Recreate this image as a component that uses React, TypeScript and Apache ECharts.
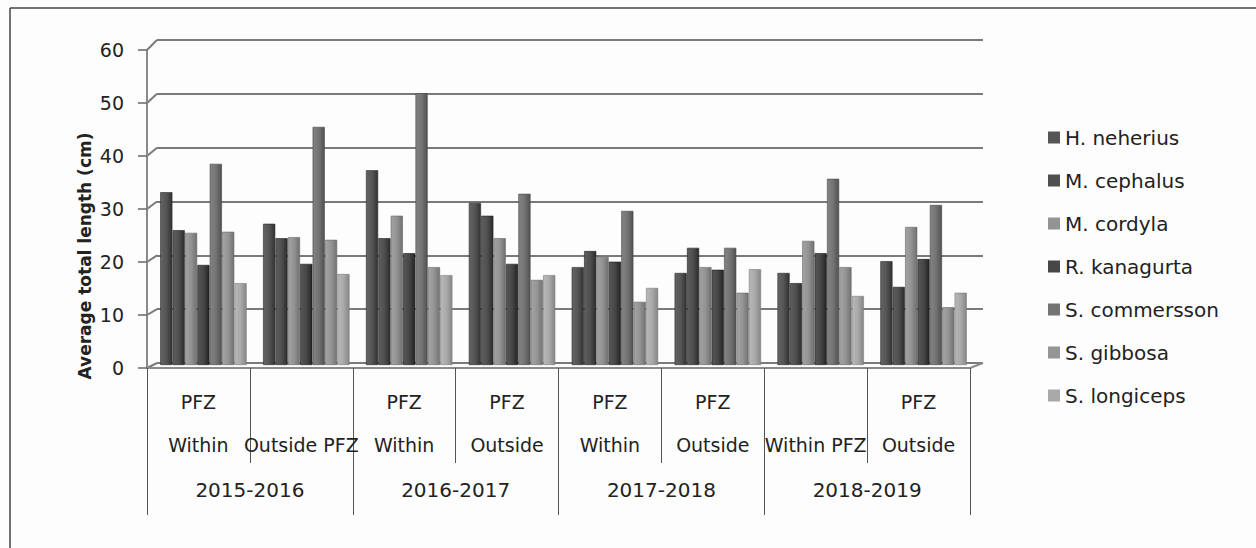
import React, { useEffect, useRef } from "react";
import * as echarts from "echarts";

const categories = [
  "PFZ\nWithin",
  " \nOutside PFZ",
  "PFZ\nWithin",
  "PFZ\nOutside",
  "PFZ\nWithin",
  "PFZ\nOutside",
  " \nWithin PFZ",
  "PFZ\nOutside",
];
const years = ["2015-2016", "2016-2017", "2017-2018", "2018-2019"];
const yTicks = [0, 10, 20, 30, 40, 50, 60];
const yTitle = "Average total length (cm)";

const speciesNames = [
  "H. neherius",
  "M. cephalus",
  "M. cordyla",
  "R. kanagurta",
  "S. commersson",
  "S. gibbosa",
  "S. longiceps",
];
const hNeherius = [32.3, 26.4, 36.4, 30.3, 18.3, 17.2, 17.2, 19.4];
const mCephalus = [25.2, 23.7, 23.7, 27.9, 21.3, 21.9, 15.3, 14.6];
const mCordyla = [24.7, 23.9, 27.9, 23.7, 20.2, 18.3, 23.2, 25.8];
const rKanagurta = [18.7, 18.9, 20.9, 18.9, 19.3, 17.8, 20.9, 19.8];
const sCommersson = [37.6, 44.5, 50.8, 32.0, 28.8, 21.9, 34.8, 29.9];
const sGibbosa = [24.9, 23.4, 18.3, 15.9, 11.8, 13.5, 18.3, 10.8];
const sLongiceps = [15.3, 17.0, 16.8, 16.8, 14.4, 17.9, 12.9, 13.5];

const seriesValues = [hNeherius, mCephalus, mCordyla, rKanagurta, sCommersson, sGibbosa, sLongiceps];
const baseColors = ["#555555", "#4f4f4f", "#939393", "#474747", "#747474", "#959595", "#a9a9a9"];

const FONT = "DejaVu Sans";

function shade(hex: string, amt: number) {
  const n = parseInt(hex.slice(1), 16);
  const c = (v: number) => Math.max(0, Math.min(255, Math.round(v + amt)));
  const r = c((n >> 16) & 255), g = c((n >> 8) & 255), b = c(n & 255);
  return `rgb(${r},${g},${b})`;
}

export default function App() {
  const ref = useRef<HTMLDivElement>(null);
  useEffect(() => {
    if (!ref.current) return;
    const chart = echarts.init(ref.current, null, { renderer: "svg" });
    const option: any = {
      animation: false,
      backgroundColor: "#fdfdfd",
      color: baseColors,
      grid: [
        { left: 147, right: 286, top: 50, bottom: 180, containLabel: false },
        { left: 157, right: 273, top: 40, bottom: 185, containLabel: false },
        { left: 152, right: 281, top: 44, bottom: 183, containLabel: false },
      ],
      xAxis: [
        {
          type: "category",
          gridIndex: 0,
          data: categories,
          axisLine: { show: true, lineStyle: { color: "#8a8a8a", width: 2 } },
          axisTick: { show: true, interval: 0, length: 95, lineStyle: { color: "#555", width: 1 } },
          axisLabel: {
            interval: 0,
            margin: 12,
            fontFamily: FONT,
            fontSize: 19,
            lineHeight: 43,
            color: "#222",
          },
        },
        {
          type: "category",
          gridIndex: 0,
          position: "bottom",
          data: years,
          axisLine: { show: false },
          axisTick: { show: true, interval: 0, length: 147, lineStyle: { color: "#555", width: 1 } },
          axisLabel: {
            interval: 0,
            margin: 111,
            fontFamily: FONT,
            fontSize: 20,
            lineHeight: 22,
            color: "#222",
          },
        },
        { type: "value", gridIndex: 1, min: 0, max: 1, show: false },
        { type: "category", gridIndex: 2, data: categories, show: false },
      ],
      yAxis: [
        {
          type: "value",
          gridIndex: 0,
          min: 0,
          max: 60,
          interval: 10,
          axisLine: { show: true, lineStyle: { color: "#8a8a8a", width: 2 } },
          axisTick: { show: true, length: 9, lineStyle: { color: "#666", width: 1.5 } },
          axisLabel: { margin: 23, fontFamily: FONT, fontSize: 19, color: "#222" },
          splitLine: { show: false },
        },
        {
          type: "value",
          gridIndex: 1,
          min: 0,
          max: 60,
          interval: 10,
          axisLine: { show: false },
          axisTick: { show: false },
          axisLabel: { show: false },
          splitLine: { show: true, lineStyle: { color: "#7a7a7a", width: 2 } },
        },
        { type: "value", gridIndex: 2, min: 0, max: 60, interval: 10, show: false },
      ],
      legend: {
        orient: "vertical",
        left: 1043,
        top: 121,
        itemWidth: 12,
        itemHeight: 12,
        itemGap: 20,
        icon: "rect",
        textStyle: { fontFamily: FONT, fontSize: 20, color: "#222", lineHeight: 23 },
        data: speciesNames.map((name, i) => ({
          name,
          itemStyle: { color: baseColors[i], borderWidth: 0 },
        })),
      },
      series: speciesNames.map((name, i) => ({
        name,
        type: "bar",
        xAxisIndex: 3,
        yAxisIndex: 2,
        data: seriesValues[i],
        barGap: "2%",
        barCategoryGap: "16%",
        itemStyle: {
          color: new echarts.graphic.LinearGradient(0, 0, 1, 0, [
            { offset: 0, color: shade(baseColors[i], 15) },
            { offset: 0.5, color: shade(baseColors[i], 0) },
            { offset: 1, color: shade(baseColors[i], -35) },
          ]),
          borderColor: shade(baseColors[i], -45),
          borderWidth: 0.6,
        },
      })),
    };
    chart.setOption(option);

    const graphics: any[] = [
      { type: "line", shape: { x1: 10, y1: 8, x2: 1256, y2: 8 }, style: { stroke: "#444", lineWidth: 1.5 } },
      { type: "line", shape: { x1: 10, y1: 8, x2: 10, y2: 548 }, style: { stroke: "#444", lineWidth: 1.5 } },
      {
        type: "text",
        x: 85,
        y: 256,
        rotation: Math.PI / 2,
        style: {
          text: yTitle,
          fontFamily: FONT,
          fontSize: 17,
          fontWeight: "bold",
          fill: "#222",
          align: "center",
          verticalAlign: "middle",
        },
      },
    ];
    yTicks.forEach((v) => {
      const yf = chart.convertToPixel({ yAxisIndex: 0 } as any, v) as unknown as number;
      const yb = chart.convertToPixel({ yAxisIndex: 1 } as any, v) as unknown as number;
      graphics.push({
        type: "line",
        shape: { x1: 147, y1: yf, x2: 157, y2: yb },
        style: { stroke: "#7a7a7a", lineWidth: 2 },
      });
    });
    const y0f = chart.convertToPixel({ yAxisIndex: 0 } as any, 0) as unknown as number;
    const y0b = chart.convertToPixel({ yAxisIndex: 1 } as any, 0) as unknown as number;
    graphics.push({
      type: "polyline",
      shape: { points: [[970, y0f], [983, y0b]] },
      style: { stroke: "#8a8a8a", lineWidth: 2 },
    });
    chart.setOption({ graphic: graphics });

    return () => chart.dispose();
  }, []);
  return (
    <div
      ref={ref}
      style={{ position: "absolute", left: 0, top: 0, width: 1256, height: 548 }}
    />
  );
}
